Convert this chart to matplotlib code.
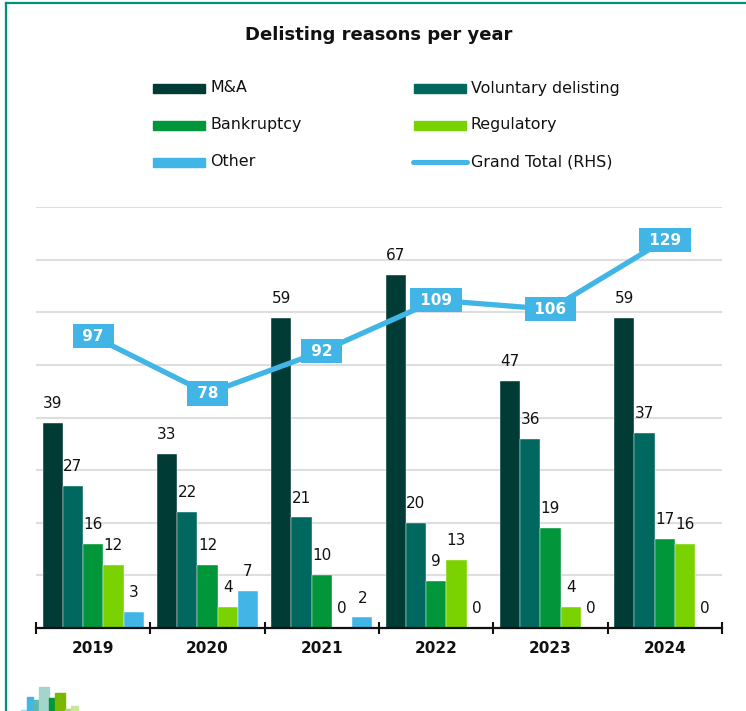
import matplotlib
matplotlib.use('Agg')
import matplotlib.pyplot as plt
import numpy as np
from matplotlib.patches import Rectangle
from matplotlib.lines import Line2D

years = ['2019', '2020', '2021', '2022', '2023', '2024']
series_names = ['M&A', 'Voluntary delisting', 'Bankruptcy', 'Regulatory', 'Other']
ma = [39, 33, 59, 67, 47, 59]
voluntary = [27, 22, 21, 20, 36, 37]
bankruptcy = [16, 12, 10, 9, 19, 17]
regulatory = [12, 4, 0, 13, 4, 16]
other = [3, 7, 2, 0, 0, 0]
grand_total = [97, 78, 92, 109, 106, 129]

C_MA = "#003B35"
C_VOL = "#00685E"
C_BANK = "#009639"
C_REG = "#7AD200"
C_OTH = "#41B6E6"
C_LINE = "#41B6E6"
C_BORDER = "#00907F"

W, H = 746, 711
fig = plt.figure(figsize=(W / 100, H / 100), dpi=100)
ax = fig.add_axes([36 / W, 1 - 628 / H, (722 - 36) / W, (628 - 207) / H])
ax2 = ax.twinx()

x = np.arange(len(years))
bw = 0.177
series = [ma, voluntary, bankruptcy, regulatory, other]
colors = [C_MA, C_VOL, C_BANK, C_REG, C_OTH]
for k, (vals, col) in enumerate(zip(series, colors)):
    pos = x + (k - 2) * bw
    ax.bar(pos, vals, width=bw, color=col, edgecolor='white', linewidth=0.3, zorder=2)
    for px, v in zip(pos, vals):
        ax.annotate(str(v), (px, v), xytext=(0, 14), textcoords='offset points',
                    ha='center', va='center', fontsize=11, color='#111111')

ax.set_xlim(-0.5, len(years) - 0.5)
ax.set_ylim(0, 80)
ax.set_yticks(np.arange(10, 81, 10))
ax.yaxis.grid(True, color='#DEDEDE', linewidth=1.5, zorder=0)
ax.set_axisbelow(True)
ax.tick_params(axis='y', length=0, labelleft=False)
for s in ['top', 'right', 'left']:
    ax.spines[s].set_visible(False)
    ax2.spines[s].set_visible(False)
ax2.spines['bottom'].set_visible(False)
ax.spines['bottom'].set_linewidth(1.6)
ax.spines['bottom'].set_color('#111111')
ax.set_xticks(np.arange(-0.5, len(years), 1.0))
ax.set_xticklabels([])
ax.tick_params(axis='x', direction='inout', length=8, width=1.5, color='#111111')
for xi, yr in zip(x, years):
    ax.text(xi, -0.048, yr, transform=ax.get_xaxis_transform(), ha='center', va='center',
            fontsize=11, fontweight='bold', color='#111111')

# grand total on the right-hand scale, labels in filled boxes
ax2.set_ylim(0, 140)
ax2.tick_params(axis='y', length=0, labelright=False)
ax2.plot(x, grand_total, color=C_LINE, linewidth=3.8, solid_capstyle='round', zorder=3)
for xi, v in zip(x, grand_total):
    ax2.text(xi, v, f" {v} ", ha='center', va='center', fontsize=11, fontweight='bold',
             color='white', zorder=4,
             bbox=dict(boxstyle='square,pad=0.3', fc=C_LINE, ec='none'))

fig.text(379 / W, 1 - 35 / H, 'Delisting reasons per year', ha='center', va='center',
         fontsize=13, fontweight='bold', color='#111111')

# legend (manual, two columns)
legend_rows = [88, 125, 162]
col_x = [153, 414]
entries = [(0, 0, 'M&A', C_MA, 'bar'), (1, 0, 'Voluntary delisting', C_VOL, 'bar'),
           (0, 1, 'Bankruptcy', C_BANK, 'bar'), (1, 1, 'Regulatory', C_REG, 'bar'),
           (0, 2, 'Other', C_OTH, 'bar'), (1, 2, 'Grand Total (RHS)', C_LINE, 'line')]
for c, r, label, col, kind in entries:
    x0 = col_x[c]
    yc = legend_rows[r]
    if kind == 'bar':
        fig.patches.append(Rectangle((x0 / W, 1 - (yc + 4.5) / H), 52 / W, 9 / H,
                                     transform=fig.transFigure, color=col))
    else:
        fig.lines.append(Line2D([(x0 - 1) / W, (x0 + 53) / W], [1 - yc / H] * 2,
                                transform=fig.transFigure, color=col, linewidth=3.6,
                                solid_capstyle='round'))
    fig.text((x0 + 57) / W, 1 - yc / H, label, ha='left', va='center', fontsize=11.4,
             color='#111111')

# frame lines
fig.lines.append(Line2D([5.5 / W, 1], [1 - 3 / H] * 2, transform=fig.transFigure,
                        color=C_BORDER, linewidth=1.6))
fig.lines.append(Line2D([5.5 / W] * 2, [0, 1 - 3 / H], transform=fig.transFigure,
                        color=C_BORDER, linewidth=1.6))

# small logo, bottom left
logo = [(21, 27, 710, '#9BD9F2'), (27, 33, 697, '#41B6E6'), (33, 39, 700, '#5FB8AA'),
        (39, 49, 687, '#A3D5CC'), (49, 55, 698, '#009639'), (55, 65, 693, '#7AB800'),
        (65, 71, 709, '#A5D86E'), (71, 78, 706, '#C8E69A')]
for xa, xb, top, col in logo:
    fig.patches.append(Rectangle((xa / W, 0), (xb - xa) / W, (H - top) / H,
                                 transform=fig.transFigure, color=col))

fig.savefig('out.png', dpi=100)
